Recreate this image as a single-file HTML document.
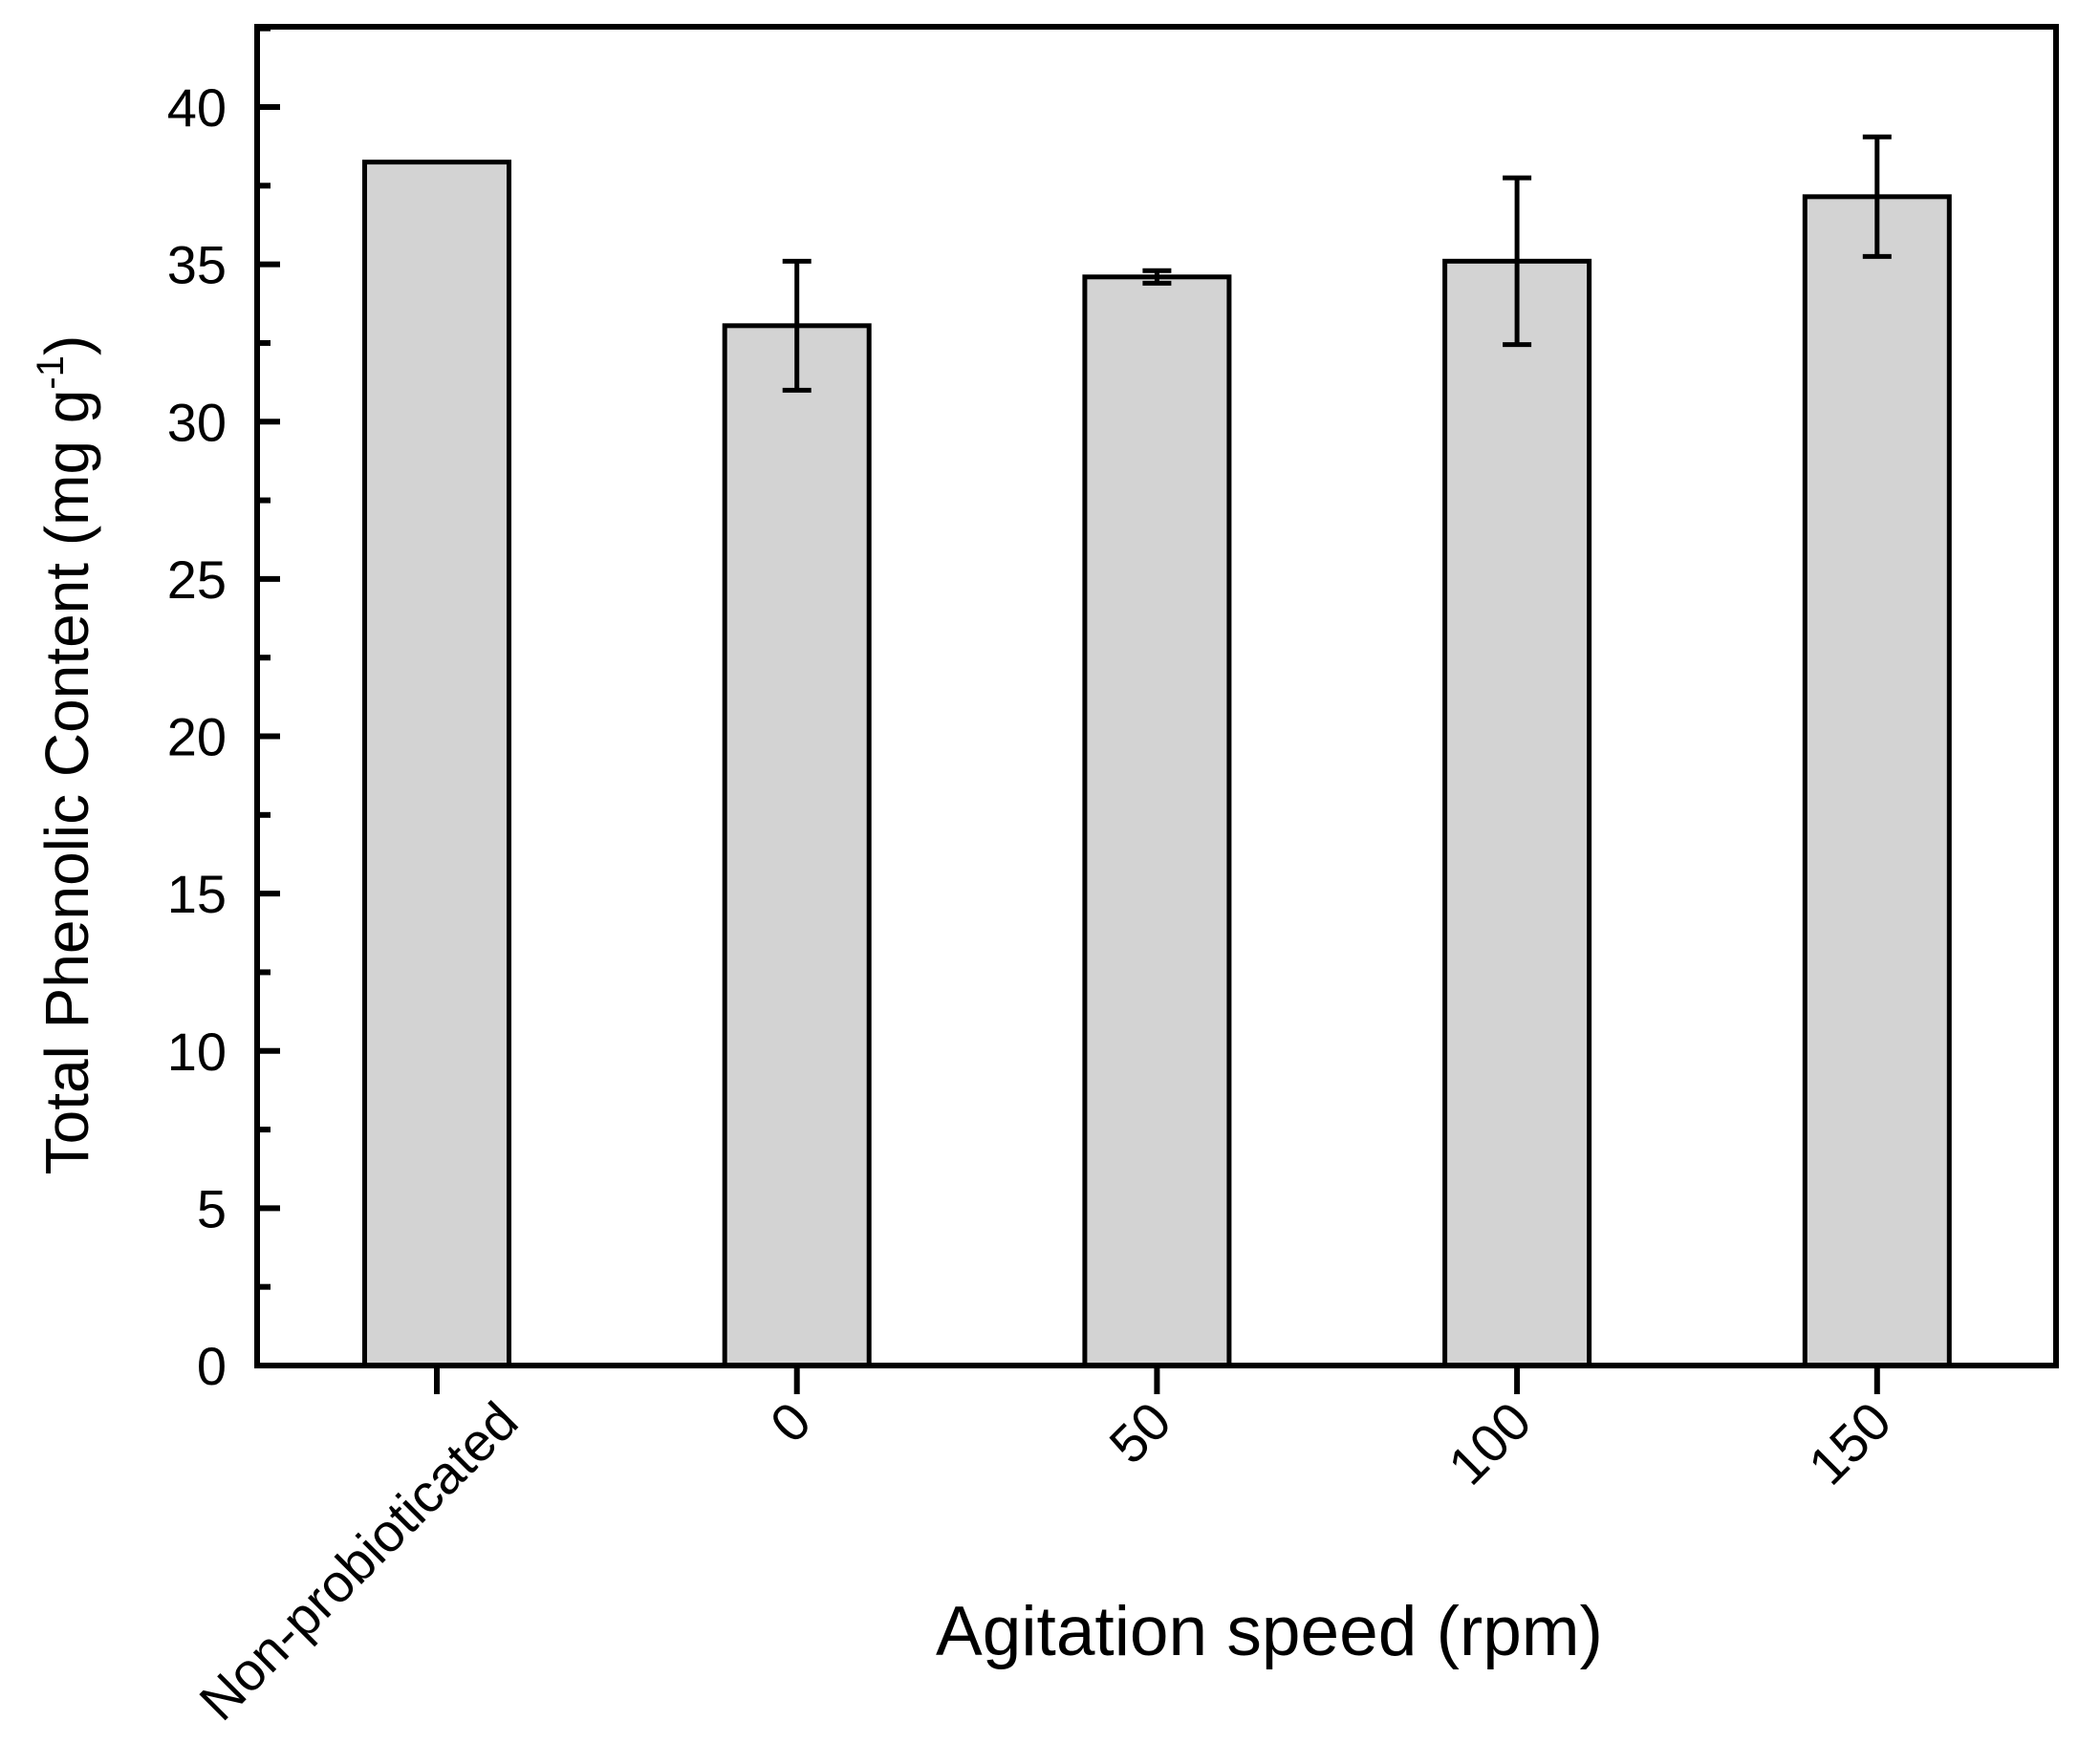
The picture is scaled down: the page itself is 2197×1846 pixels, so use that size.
<!DOCTYPE html>
<html><head><meta charset="utf-8"><style>
html,body{margin:0;padding:0;background:#fff}
svg{display:block;font-family:"Liberation Sans",Arial,sans-serif}
</style></head><body>
<svg id="chart" width="2197" height="1846" viewBox="0 0 2197 1846" xmlns="http://www.w3.org/2000/svg">
<g id="plot"></g>
<text x="1328" y="1732" font-size="73" text-anchor="middle">Agitation speed (rpm)</text>
<text transform="translate(92,790) rotate(-90)" font-size="64" text-anchor="middle">Total Phenolic Content (mg g<tspan dy="-26" font-size="40">-1</tspan><tspan dy="26">)</tspan></text>
</svg>
<script>
const categories = ["Non-probioticated","0","50","100","150"];
const values = [38.25, 33.05, 34.6, 35.1, 37.15];
const errors = [0, 2.05, 0.2, 2.65, 1.9];
const yTicks = [0,5,10,15,20,25,30,35,40];

const L=269,R=2151,T=28,B=1429;
const yMin=0,yMax=40,y40=112;
function y(v){return B-(v-yMin)/(yMax-yMin)*(B-y40);}
const x0=457, dx=376.7;
function x(i){return x0+i*dx;}
const bw=151;
const NS="http://www.w3.org/2000/svg";
const g=document.getElementById('plot');
function mk(tag,attrs){const e=document.createElementNS(NS,tag);for(const k in attrs)e.setAttribute(k,attrs[k]);g.appendChild(e);return e;}

categories.forEach((c,i)=>{
  const b=mk('rect',{x:x(i)-bw/2,y:y(values[i]),width:bw,height:B-y(values[i]),fill:'#d3d3d3',stroke:'#000','stroke-width':5});
  
  
  if(errors[i]>0){
    const eg=document.createElementNS(NS,'g');
    
    
    g.appendChild(eg);
    const hi=y(values[i]+errors[i]),lo=y(values[i]-errors[i]);
    [[x(i),hi,x(i),lo],[x(i)-15,hi,x(i)+15,hi],[x(i)-15,lo,x(i)+15,lo]].forEach(p=>{
      const l=document.createElementNS(NS,'line');
      l.setAttribute('x1',p[0]);l.setAttribute('y1',p[1]);l.setAttribute('x2',p[2]);l.setAttribute('y2',p[3]);
      l.setAttribute('stroke','#000');l.setAttribute('stroke-width',5);
      eg.appendChild(l);
    });
  }
  const t=mk('line',{x1:x(i),y1:B,x2:x(i),y2:B+30,stroke:'#000','stroke-width':6});
  
  
  const off = c.length>5 ? 88 : 18;
  const lb=mk('text',{transform:`translate(${x(i)+off},${B+62}) rotate(-45)`,'font-size':56,'text-anchor':'end'});
  
  
  lb.textContent=c;
});

yTicks.forEach(v=>{
  const t=mk('line',{x1:L,y1:y(v),x2:L+24,y2:y(v),stroke:'#000','stroke-width':6});
  
  
  const m=mk('line',{x1:L,y1:y(v+2.5),x2:L+14,y2:y(v+2.5),stroke:'#000','stroke-width':6});
  
  
  const lb=mk('text',{x:L-32,y:y(v)+20,'font-size':56,'text-anchor':'end'});
  
  
  lb.textContent=v;
});

const fr=mk('rect',{x:L,y:T,width:R-L,height:B-T,fill:'none',stroke:'#000','stroke-width':6});


</script>
</body></html>
